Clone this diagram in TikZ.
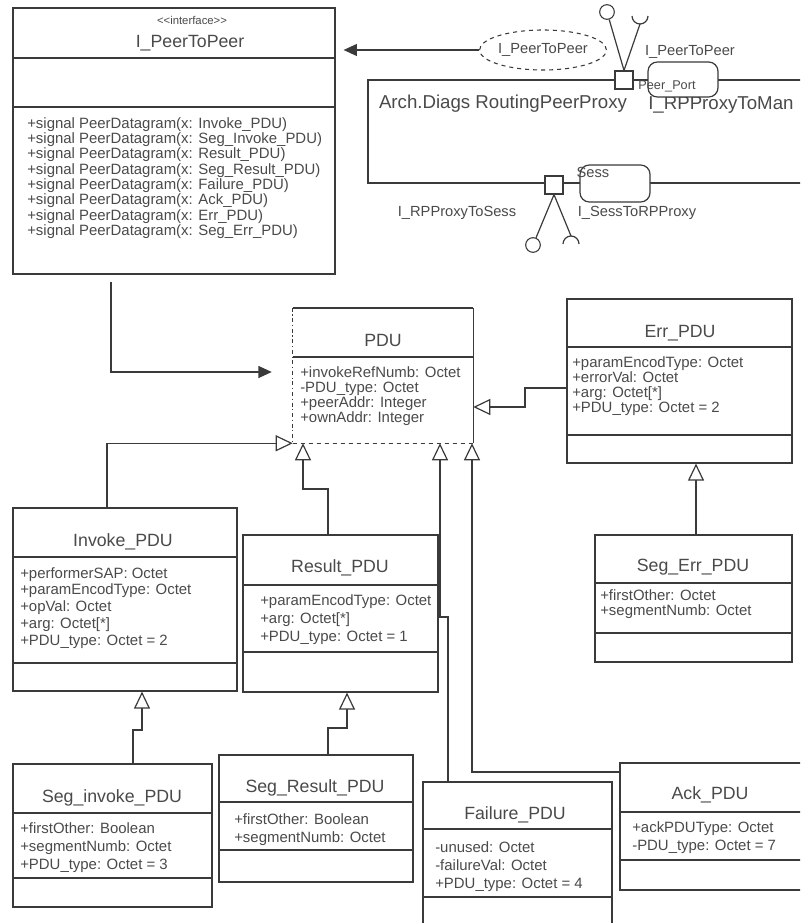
\documentclass[tikz,border=0pt]{standalone}
\usepackage{fontspec}
\setmainfont{Liberation Sans}
\usetikzlibrary{arrows.meta,fit,shapes.geometric}
\definecolor{ln}{HTML}{3A3A3A}
\definecolor{tx}{HTML}{4A4A4A}
\begin{document}
\begin{tikzpicture}[x=0.75pt,y=-0.75pt,
  cls/.style={draw=ln, line width=0.9pt, fill=white, inner sep=0pt},
  sep/.style={draw=ln, line width=0.9pt},
  ttl/.style={text=tx, inner sep=0pt, font=\fontsize{13.3pt}{14pt}\selectfont},
  att/.style={text=tx, anchor=north west, inner sep=0pt, align=left, font=\fontsize{11.2pt}{#1}\selectfont},
  lbl/.style={text=tx, inner sep=0pt, font=\fontsize{11pt}{12pt}\selectfont},
  big/.style={text=tx, inner sep=0pt, font=\fontsize{14pt}{15pt}\selectfont},
  conn/.style={draw=ln, line width=0.9pt},
  gen/.style={conn, -{Triangle[open, length=12.75pt, width=12pt, fill=white]}},
  dep/.style={conn, -{Triangle[length=10pt, width=9pt]}},
  port/.style={draw=ln, line width=0.9pt, fill=white, minimum size=13.5pt, inner sep=0pt},
  part/.style={draw=ln, line width=0.9pt, fill=white, rounded corners=7pt, inner sep=0pt},
  lolly/.style={draw=ln, line width=0.8pt, circle, minimum size=11pt, inner sep=0pt}
]
\clip (0,0) rectangle (800,923);
\fill[white] (0,0) rectangle (800,923);

% ---------- RoutingPeerProxy structure ----------
\node[draw=ln, line width=0.9pt, inner sep=0pt, fit={(368,80)(830,183)}] (rpp) {};
\node[big] (rppname) at (503,104) {Arch.Diags RoutingPeerProxy};
\node[big, anchor=west] (rppman) at (648,105) {I\_RPProxyToMan};
\node[part, fit={(648,62)(718,97)}] (peerpart) {};
\node[port] (pport) at (624,80) {};
\node[text=tx, inner sep=0pt, font=\fontsize{9.5pt}{10pt}\selectfont] (pportname) at (667,86) {Peer\_Port};
\node[lbl] (pportif) at (690,52) {I\_PeerToPeer};
\node[lolly] (lp1) at (607,12) {};
\coordinate (sk1) at (640,24);
\draw[conn] (pport.north) -- (lp1);
\draw[conn] (pport.north) -- (sk1);
\draw[conn] (sk1) arc[start angle=90, end angle=0, radius=8] (sk1) arc[start angle=90, end angle=180, radius=8];

\node[part, fit={(580,165)(650,202)}] (sesspart) {};
\node[port] (sport) at (554,185) {};
\node[lbl] (sportname) at (593,172) {Sess};
\node[lbl] (sif1) at (457,213) {I\_RPProxyToSess};
\node[lbl] (sif2) at (637,213) {I\_SessToRPProxy};
\node[lolly] (lp2) at (533,245) {};
\coordinate (sk2) at (571,236);
\draw[conn] (sport.south) -- (lp2);
\draw[conn] (sport.south) -- (sk2);
\draw[conn] (sk2) arc[start angle=270, end angle=360, radius=8] (sk2) arc[start angle=270, end angle=180, radius=8];

\node[ellipse, draw=ln, dashed, line width=0.8pt, minimum width=75pt, minimum height=30pt, inner sep=0pt, text=tx, font=\fontsize{11pt}{12pt}\selectfont] (ell) at (543,50) {I\_PeerToPeer};

% ---------- I_PeerToPeer ----------
\node[cls, fit={(13,8)(335,274)}] (ip2p) {};
\draw[sep] (13,58) -- (335,58);
\draw[sep] (13,107) -- (335,107);
\node[text=tx, inner sep=0pt, font=\fontsize{8.5pt}{9pt}\selectfont] (ip2pst) at (192,20) {<{}<interface>{}>};
\node[ttl] (ip2pname) at (190,43) {I\_PeerToPeer};
\node[att=11.5pt] (ip2patt) at (27,117) {+signal PeerDatagram(x: Invoke\_PDU)\\+signal PeerDatagram(x: Seg\_Invoke\_PDU)\\+signal PeerDatagram(x: Result\_PDU)\\+signal PeerDatagram(x: Seg\_Result\_PDU)\\+signal PeerDatagram(x: Failure\_PDU)\\+signal PeerDatagram(x: Ack\_PDU)\\+signal PeerDatagram(x: Err\_PDU)\\+signal PeerDatagram(x: Seg\_Err\_PDU)};

\draw[dep, shorten >=6pt] (ell.west) -- (ip2p.east |- ell.west);

% ---------- PDU ----------
\node[fill=white, inner sep=0pt, fit={(293,308)(473,443)}] (pdu) {};
\draw[ln, line width=1.3pt] (pdu.north west) -- (pdu.north east);
\draw[sep] (pdu.north east) -- (pdu.south east);
\draw[sep, dash dot] (pdu.north west) -- (pdu.south west);
\draw[sep, dashed] (pdu.south west) -- (pdu.south east);
\draw[sep] (293,357) -- (473,357);
\node[ttl] (pduname) at (383,340) {PDU};
\node[att=11.25pt] (pduatt) at (300,366) {+invokeRefNumb: Octet\\-PDU\_type: Octet\\+peerAddr: Integer\\+ownAddr: Integer};

\coordinate (pk1) at (111,282);
\coordinate (pk2) at (0,372);
\draw[dep, shorten >=15.75pt] (pk1) |- (pdu.west |- pk2);

% ---------- Err_PDU ----------
\node[cls, fit={(567,299)(792,463)}] (err) {};
\draw[sep] (567,347) -- (792,347);
\draw[sep] (567,435) -- (792,435);
\node[ttl] (errname) at (680,333) {Err\_PDU};
\node[att=11.25pt] (erratt) at (572,356) {+paramEncodType: Octet\\+errorVal: Octet\\+arg: Octet[*]\\+PDU\_type: Octet = 2};

% ---------- Seg_Err_PDU ----------
\node[cls, fit={(595,535)(792,662)}] (segerr) {};
\draw[sep] (595,583) -- (792,583);
\draw[sep] (595,633) -- (792,633);
\node[ttl] (segerrname) at (693,567) {Seg\_Err\_PDU};
\node[att=11.25pt] (segerratt) at (600,589) {+firstOther: Octet\\+segmentNumb: Octet};

% ---------- Invoke_PDU ----------
\node[cls, fit={(13,508)(237,691)}] (invoke) {};
\draw[sep] (13,557) -- (237,557);
\draw[sep] (13,663) -- (237,663);
\node[ttl] (invokename) at (123,542) {Invoke\_PDU};
\node[att=12.6pt] (invokeatt) at (20,567) {+performerSAP: Octet\\+paramEncodType: Octet\\+opVal: Octet\\+arg: Octet[*]\\+PDU\_type: Octet = 2};

% ---------- Result_PDU ----------
\node[cls, fit={(243,535)(438,692)}] (result) {};
\draw[sep] (243,585) -- (438,585);
\draw[sep] (243,652) -- (438,652);
\node[ttl] (resultname) at (340,568) {Result\_PDU};
\node[att=13.5pt] (resultatt) at (260,594) {+paramEncodType: Octet\\+arg: Octet[*]\\+PDU\_type: Octet = 1};

% ---------- Seg_invoke_PDU ----------
\node[cls, fit={(13,764)(212,907)}] (seginv) {};
\draw[sep] (13,813) -- (212,813);
\draw[sep] (13,878) -- (212,878);
\node[ttl] (seginvname) at (112,798) {Seg\_invoke\_PDU};
\node[att=13.5pt] (seginvatt) at (20,822) {+firstOther: Boolean\\+segmentNumb: Octet\\+PDU\_type: Octet = 3};

% ---------- Seg_Result_PDU ----------
\node[cls, fit={(219,755)(413,882)}] (segres) {};
\draw[sep] (219,802) -- (413,802);
\draw[sep] (219,850) -- (413,850);
\node[ttl] (segresname) at (315,788) {Seg\_Result\_PDU};
\node[att=13.5pt] (segresatt) at (234,813) {+firstOther: Boolean\\+segmentNumb: Octet};

% ---------- Failure_PDU ----------
\node[cls, fit={(423,782)(612,940)}] (failure) {};
\draw[sep] (423,829) -- (612,829);
\draw[sep] (423,897) -- (612,897);
\node[ttl] (failurename) at (515,815) {Failure\_PDU};
\node[att=13.5pt] (failureatt) at (435,841) {-unused: Octet\\-failureVal: Octet\\+PDU\_type: Octet = 4};

% ---------- Ack_PDU ----------
\node[cls, fit={(620,763)(830,890)}] (ack) {};
\draw[sep] (620,812) -- (830,812);
\draw[sep] (620,860) -- (830,860);
\node[ttl] (ackname) at (710,795) {Ack\_PDU};
\node[att=14pt] (ackatt) at (632,821) {+ackPDUType: Octet\\-PDU\_type: Octet = 7};

% ---------- generalizations ----------
\coordinate (ia) at (107,0);
\draw[gen] (invoke.north -| ia) |- (pdu.south west);

\coordinate (rb1) at (328,489);
\coordinate (rb2) at (303,489);
\draw[gen] (result.north -| rb1) -- (rb1) -- (rb2) -- (pdu.south -| rb2);

\coordinate (fb1) at (448,617);
\coordinate (fb2) at (440,617);
\draw[gen] (failure.north -| fb1) -- (fb1) -- (fb2) -- (pdu.south -| fb2);

\coordinate (ab1) at (472,772);
\draw[gen] (ack.west |- ab1) -- (ab1) -- (pdu.south -| ab1);

\coordinate (eb1) at (525,388);
\coordinate (eb2) at (525,407);
\draw[gen] (err.west |- eb1) -- (eb1) -- (eb2) -- (pdu.east |- eb2);

\coordinate (sb1) at (696,0);
\draw[gen] (segerr.north -| sb1) -- (err.south -| sb1);

\coordinate (vb1) at (133,730);
\coordinate (vb2) at (142,730);
\draw[gen] (seginv.north -| vb1) -- (vb1) -- (vb2) -- (invoke.south -| vb2);

\coordinate (qb1) at (328,728);
\coordinate (qb2) at (347,728);
\draw[gen] (segres.north -| qb1) -- (qb1) -- (qb2) -- (result.south -| qb2);
\end{tikzpicture}
\end{document}
